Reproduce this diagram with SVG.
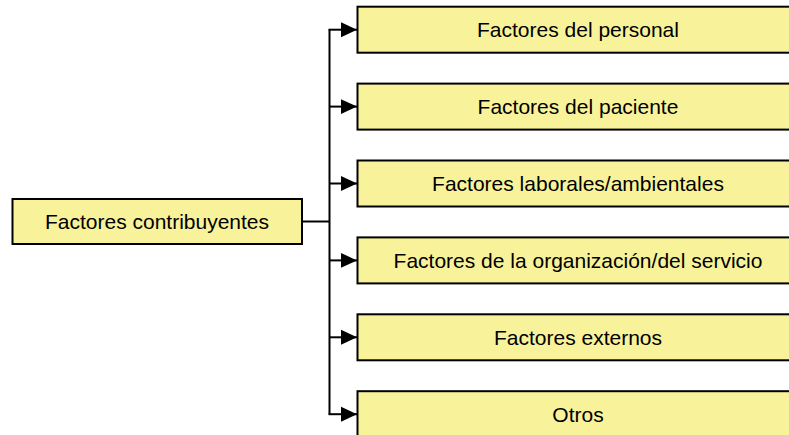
<svg xmlns="http://www.w3.org/2000/svg" width="789" height="435" viewBox="0 0 789 435">
<style>
.box{fill:#F8F39A;stroke:#000;stroke-width:2}
.lbl{font-family:"Liberation Sans",Arial,sans-serif;font-size:21px;fill:#000;text-anchor:middle}
.con{fill:none;stroke:#000;stroke-width:2}
</style>
<defs>
<marker id="arr" markerUnits="userSpaceOnUse" markerWidth="16" markerHeight="16" viewBox="0 0 15 14" refX="15" refY="7" orient="auto">
<path d="M0,0 L15,7 L0,14 Z" fill="#000"/>
</marker>
</defs>
<rect width="789" height="435" fill="#fff"/>
<g id="connectors">
<path class="con" d="M302,221.5 H329.5"/>
<path class="con" d="M329.5,29.7 V414.2"/>
<path class="con" d="M328.5,29.7 H357" marker-end="url(#arr)"/>
<path class="con" d="M329.5,106.6 H357" marker-end="url(#arr)"/>
<path class="con" d="M329.5,183.5 H357" marker-end="url(#arr)"/>
<path class="con" d="M329.5,260.4 H357" marker-end="url(#arr)"/>
<path class="con" d="M329.5,337.3 H357" marker-end="url(#arr)"/>
<path class="con" d="M328.5,414.2 H357" marker-end="url(#arr)"/>
</g>
<g id="root">
<rect class="box" x="12.5" y="199" width="289.5" height="45"/>
<text class="lbl" x="157" y="229">Factores contribuyentes</text>
</g>
<g id="n1">
<rect class="box" x="357.5" y="6.7" width="442" height="46"/>
<text class="lbl" x="578" y="37.2">Factores del personal</text>
</g>
<g id="n2">
<rect class="box" x="357.5" y="83.6" width="442" height="46"/>
<text class="lbl" x="578" y="114.1">Factores del paciente</text>
</g>
<g id="n3">
<rect class="box" x="357.5" y="160.5" width="442" height="46"/>
<text class="lbl" x="578" y="191">Factores laborales/ambientales</text>
</g>
<g id="n4">
<rect class="box" x="357.5" y="237.4" width="442" height="46"/>
<text class="lbl" x="578" y="267.9">Factores de la organización/del servicio</text>
</g>
<g id="n5">
<rect class="box" x="357.5" y="314.3" width="442" height="46"/>
<text class="lbl" x="578" y="344.8">Factores externos</text>
</g>
<g id="n6">
<rect class="box" x="357.5" y="391.2" width="442" height="46"/>
<text class="lbl" x="578" y="421.7">Otros</text>
</g>
</svg>
